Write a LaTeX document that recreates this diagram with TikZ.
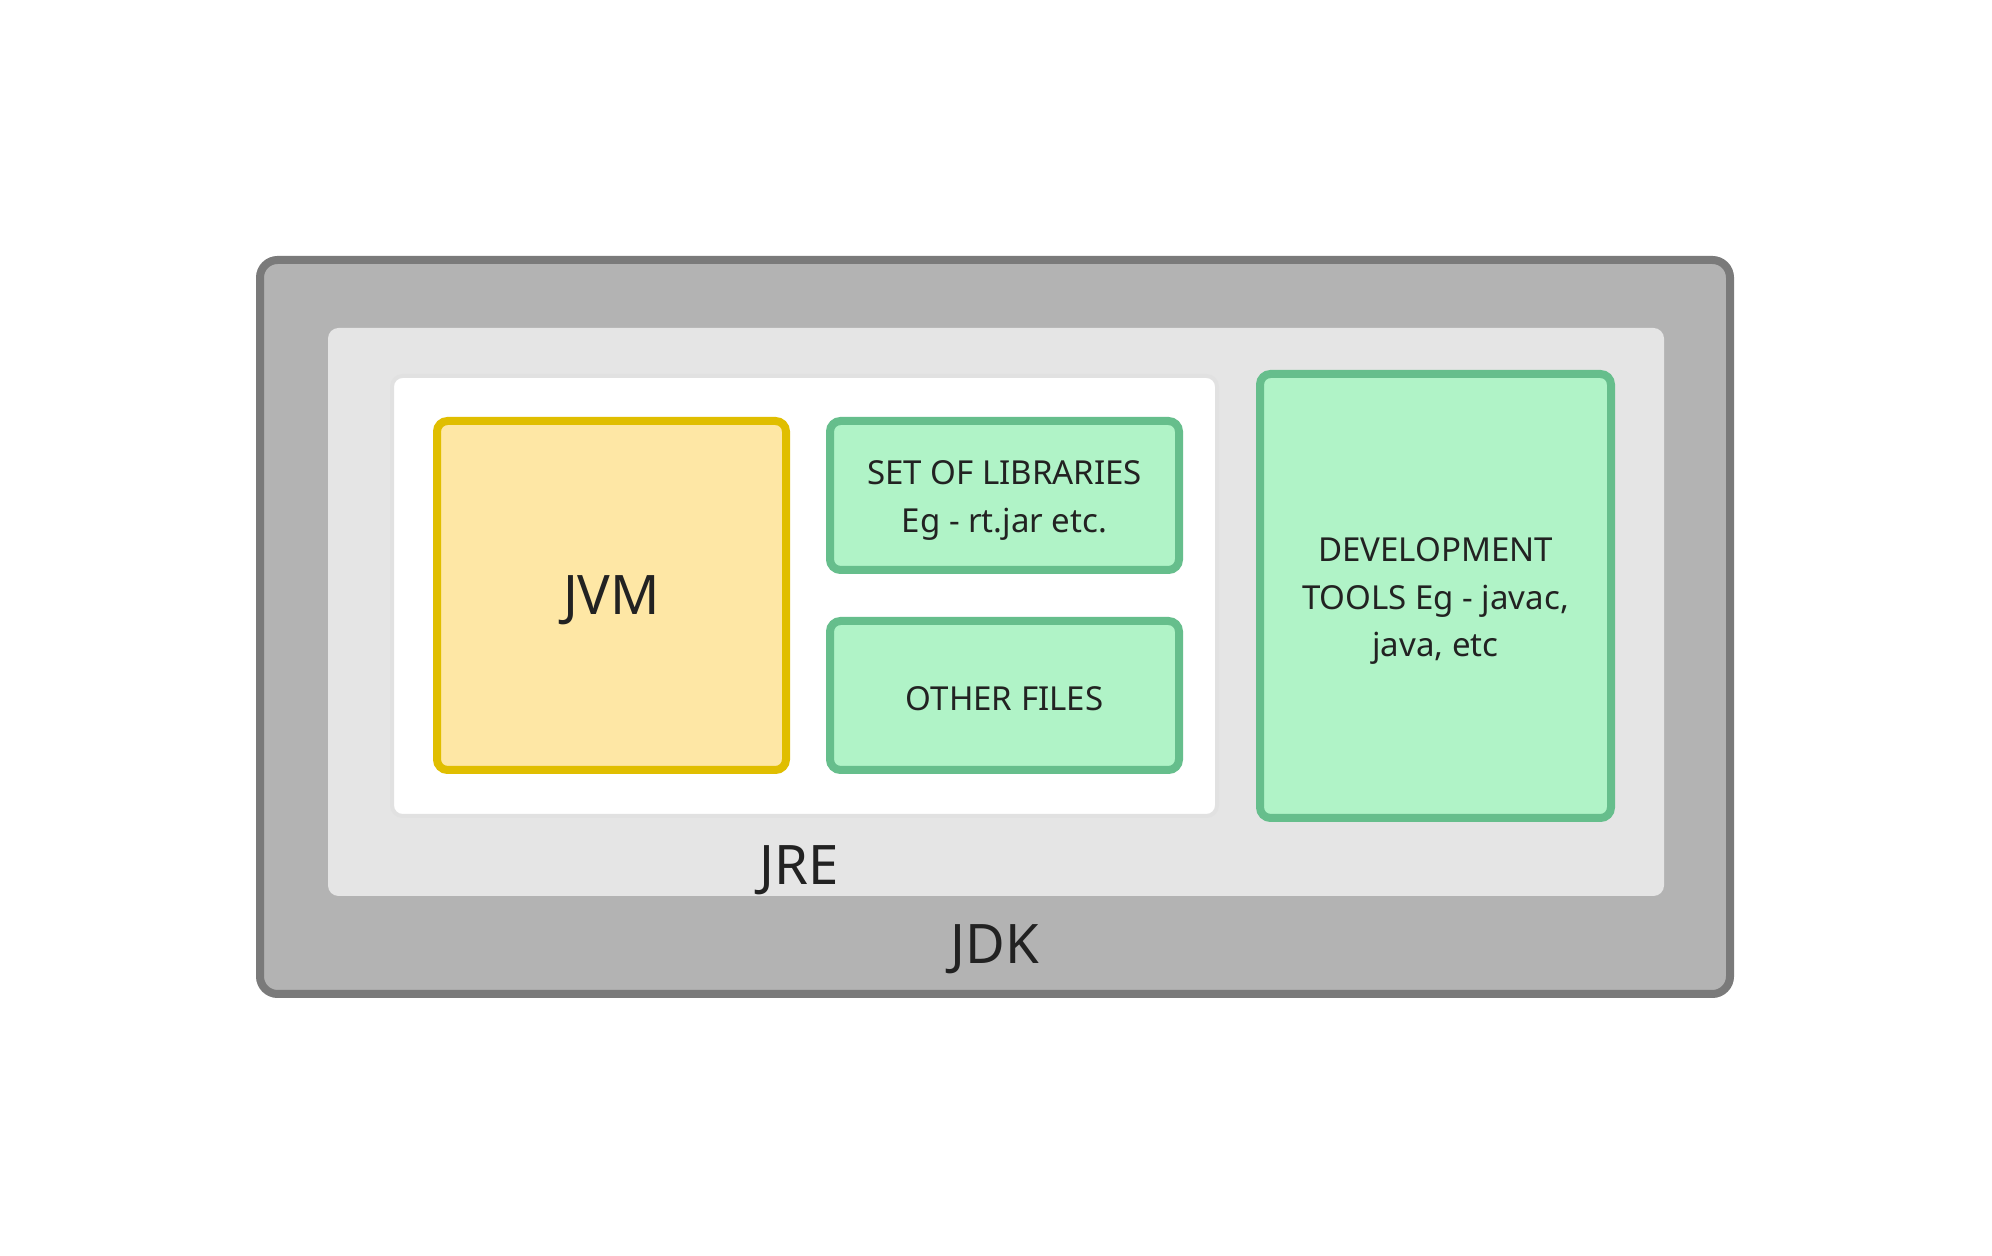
\documentclass[tikz,border=0pt]{standalone}
\usepackage{fontspec}
\setmainfont{Noto Sans}
\usepackage{xcolor}
\definecolor{jdkgray}{RGB}{179,179,179}
\definecolor{jdkedge}{RGB}{122,122,122}
\definecolor{jregray}{RGB}{229,229,229}
\definecolor{jreedge}{RGB}{225,225,225}
\definecolor{jvmfill}{RGB}{254,231,165}
\definecolor{jvmedge}{RGB}{224,190,0}
\definecolor{libfill}{RGB}{176,243,199}
\definecolor{libedge}{RGB}{102,190,140}
\definecolor{inkdark}{RGB}{34,34,34}

\tikzset{
  part/.style={rectangle,rounded corners=3pt,line width=0.8mm,inner sep=0pt,
    align=center,text=inkdark,font=\fontsize{9.4}{13.6}\selectfont},
  greenpart/.style={part,draw=libedge,fill=libfill,minimum width=3.49cm},
  biglabel/.style={text=inkdark,font=\fontsize{15.5}{17}\selectfont}
}

\begin{document}
\begin{tikzpicture}[x=1cm,y=1cm]
 \useasboundingbox[fill=white] (0,0) rectangle (19.92,12.56);
 \node[part,draw=jdkedge,fill=jdkgray,rounded corners=5pt,
   minimum width=14.70cm,minimum height=7.34cm] (jdk) at (9.95,6.29) {};
 \node[part,fill=jregray,minimum width=13.36cm,minimum height=5.68cm] (jre) at (9.96,6.44) {};
 \node[part,draw=jreedge,line width=0.4mm,fill=white,
   minimum width=8.25cm,minimum height=4.40cm] (rt) at (8.045,6.60) {};
 \node[part,draw=jvmedge,fill=jvmfill,minimum width=3.49cm,minimum height=3.49cm]
   (jvm) at (6.115,6.605) {};
 \node[biglabel] (jvmtext) at ([yshift=-0.05cm]jvm.center) {JVM};
 \node[greenpart,minimum height=1.49cm] (libs) at (10.045,7.605) {};
 \node[part] (libstext) at ([yshift=-0.05cm]libs.center) {SET OF LIBRARIES\\Eg - rt.jar etc.};
 \node[greenpart,minimum height=1.49cm] (other) at (10.045,5.605) {};
 \node[part] (othertext) at ([yshift=-0.03cm]other.center) {OTHER FILES};
 \node[greenpart,minimum width=3.51cm,minimum height=4.44cm] (tools) at (14.355,6.60) {};
 \node[part] (toolstext) at ([yshift=-0.05cm]tools.center) {DEVELOPMENT\\TOOLS Eg - javac,\\java, etc};
 \node[biglabel] (jrelabel) at (7.99,3.86) {JRE};
 \node[biglabel] (jdklabel) at (9.95,3.07) {JDK};
\end{tikzpicture}
\end{document}
